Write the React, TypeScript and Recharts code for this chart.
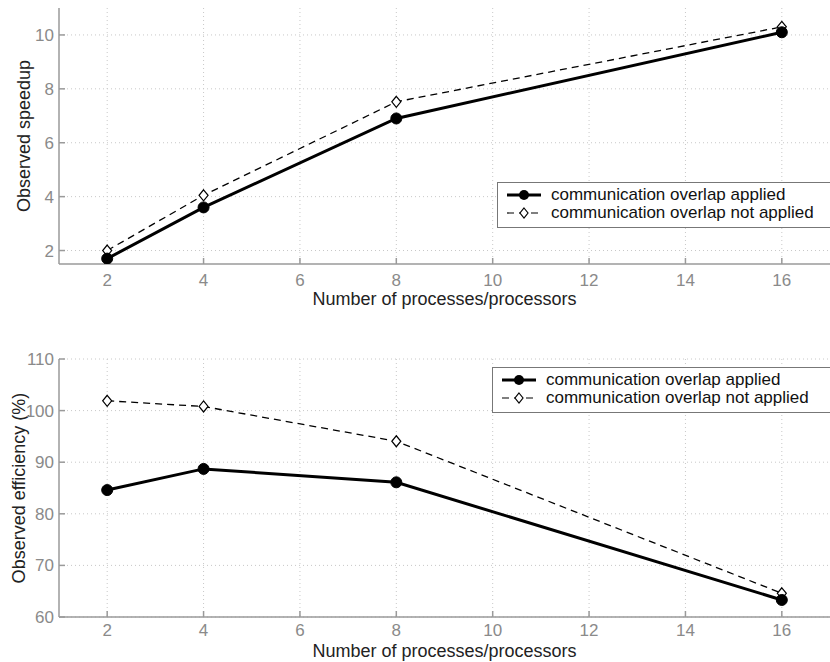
import React from 'react';
import { LineChart, Line, XAxis, YAxis, CartesianGrid, Label } from 'recharts';

const procs = [2, 4, 8, 16];
const speedupApplied = [1.7, 3.6, 6.9, 10.1];
const speedupNotApplied = [2.0, 4.05, 7.52, 10.3];
const effApplied = [84.6, 88.7, 86.1, 63.3];
const effNotApplied = [101.9, 100.8, 94.06, 64.6];

const xTicks = [2, 4, 6, 8, 10, 12, 14, 16];
const speedupTicks = [2, 4, 6, 8, 10];
const effTicks = [60, 70, 80, 90, 100, 110];

const seriesNames = ['communication overlap applied', 'communication overlap not applied'];
const xLabel = 'Number of processes/processors';

const speedData = procs.map((p, i) => ({ p, a: speedupApplied[i], n: speedupNotApplied[i] }));
const effData = procs.map((p, i) => ({ p, a: effApplied[i], n: effNotApplied[i] }));

const FONT = '"Liberation Sans", Arial, sans-serif';
const AXIS = '#9a9a9a';
const TICK = '#8a8a8a';

const Circle = (props: any) => {
  const { cx, cy } = props;
  if (cx == null || cy == null) return null;
  return <circle cx={cx} cy={cy} r={5.5} fill="#000" stroke="#000" strokeWidth={1} />;
};
const Diamond = (props: any) => {
  const { cx, cy } = props;
  if (cx == null || cy == null) return null;
  return (
    <path
      d={`M${cx},${cy - 5.5} L${cx + 4.5},${cy} L${cx},${cy + 5.5} L${cx - 4.5},${cy} Z`}
      fill="#fff"
      stroke="#000"
      strokeWidth={1.2}
    />
  );
};

const LegendBox = (props: { top: number; left: number }) => (
  <div
    style={{
      position: 'absolute',
      top: props.top,
      left: props.left,
      border: '1.5px solid #777',
      background: '#fff',
      width: 340,
      height: 46,
      boxSizing: 'border-box',
      fontFamily: FONT,
      fontSize: 17,
      color: '#111',
      padding: '3px 0 0 8px',
      lineHeight: '18px',
    }}
  >
    <div style={{ display: 'flex', alignItems: 'center' }}>
      <svg width={36} height={18}>
        <line x1={1} y1={9} x2={35} y2={9} stroke="#000" strokeWidth={3} />
        <circle cx={18} cy={9} r={5} fill="#000" />
      </svg>
      <span style={{ marginLeft: 9 }}>{seriesNames[0]}</span>
    </div>
    <div style={{ display: 'flex', alignItems: 'center' }}>
      <svg width={36} height={18}>
        <line x1={1} y1={9} x2={35} y2={9} stroke="#000" strokeWidth={1.2} strokeDasharray="7 5" />
        <path d="M18,4 L22,9 L18,14 L14,9 Z" fill="#fff" stroke="#000" strokeWidth={1.2} />
      </svg>
      <span style={{ marginLeft: 9 }}>{seriesNames[1]}</span>
    </div>
  </div>
);

const yLabelContent = (text: string, x: number) => (props: any) => {
  const vb = props.viewBox;
  const cy = vb.y + vb.height / 2;
  return (
    <text
      x={x}
      y={cy}
      transform={`rotate(-90, ${x}, ${cy})`}
      textAnchor="middle"
      fontFamily={FONT}
      fontSize={18}
      fill="#222"
    >
      {text}
    </text>
  );
};

const xLabelContent = (offsetY: number) => (props: any) => {
  const vb = props.viewBox;
  return (
    <text
      x={vb.x + vb.width / 2}
      y={vb.y + offsetY}
      textAnchor="middle"
      fontFamily={FONT}
      fontSize={18}
      fill="#222"
    >
      {xLabel}
    </text>
  );
};

function Panel(props: {
  data: any[];
  height: number;
  top: number;
  xAxisHeight: number;
  labelOffset: number;
  tickMargin: number;
  domain: [number, number];
  yTicks: number[];
  yLabel: string;
  yLabelX: number;
}) {
  const { data, height, top, xAxisHeight, labelOffset, tickMargin, domain, yTicks, yLabel, yLabelX } = props;
  return (
    <LineChart
      width={830}
      height={height}
      data={data}
      margin={{ top, right: 0, left: 0, bottom: 0 }}
      style={{ fontFamily: FONT }}
    >
      <CartesianGrid stroke="#c8c8c8" strokeDasharray="1 3" horizontalValues={yTicks} verticalValues={xTicks} />
      <XAxis
        dataKey="p"
        type="number"
        domain={[1, 17]}
        ticks={xTicks}
        allowDataOverflow
        height={xAxisHeight}
        stroke={AXIS}
        strokeWidth={1.5}
        tickSize={-6}
        tickMargin={tickMargin}
        tick={{ fill: TICK, fontSize: 17, fontFamily: FONT }}
        interval={0}
      >
        <Label content={xLabelContent(labelOffset)} />
      </XAxis>
      <YAxis
        type="number"
        domain={domain}
        ticks={yTicks}
        allowDataOverflow
        width={59}
        stroke={AXIS}
        strokeWidth={1.5}
        tickSize={-6}
        tickMargin={11}
        tick={{ fill: TICK, fontSize: 17, fontFamily: FONT }}
        interval={0}
      >
        <Label content={yLabelContent(yLabel, yLabelX)} />
      </YAxis>
      <Line
        dataKey="n"
        name={seriesNames[1]}
        stroke="#000"
        strokeWidth={1.3}
        strokeDasharray="7 5"
        dot={<Diamond />}
        isAnimationActive={false}
      />
      <Line
        dataKey="a"
        name={seriesNames[0]}
        stroke="#000"
        strokeWidth={3}
        dot={<Circle />}
        isAnimationActive={false}
      />
    </LineChart>
  );
}

export default function App() {
  return (
    <div style={{ position: 'absolute', left: 0, top: 0, width: 830, height: 662, background: '#fff', overflow: 'hidden' }}>
      <div style={{ position: 'absolute', left: 0, top: 0 }}>
        <Panel
          data={speedData}
          height={320}
          top={8}
          xAxisHeight={56}
          labelOffset={41}
          tickMargin={16}
          domain={[1.5, 11]}
          yTicks={speedupTicks}
          yLabel="Observed speedup"
          yLabelX={30}
        />
        <LegendBox top={182} left={497} />
      </div>
      <div style={{ position: 'absolute', left: 0, top: 330 }}>
        <Panel
          data={effData}
          height={332}
          top={29}
          xAxisHeight={45}
          labelOffset={40}
          tickMargin={13}
          domain={[60, 110]}
          yTicks={effTicks}
          yLabel="Observed efficiency (%)"
          yLabelX={25}
        />
        <LegendBox top={37} left={492} />
      </div>
    </div>
  );
}
